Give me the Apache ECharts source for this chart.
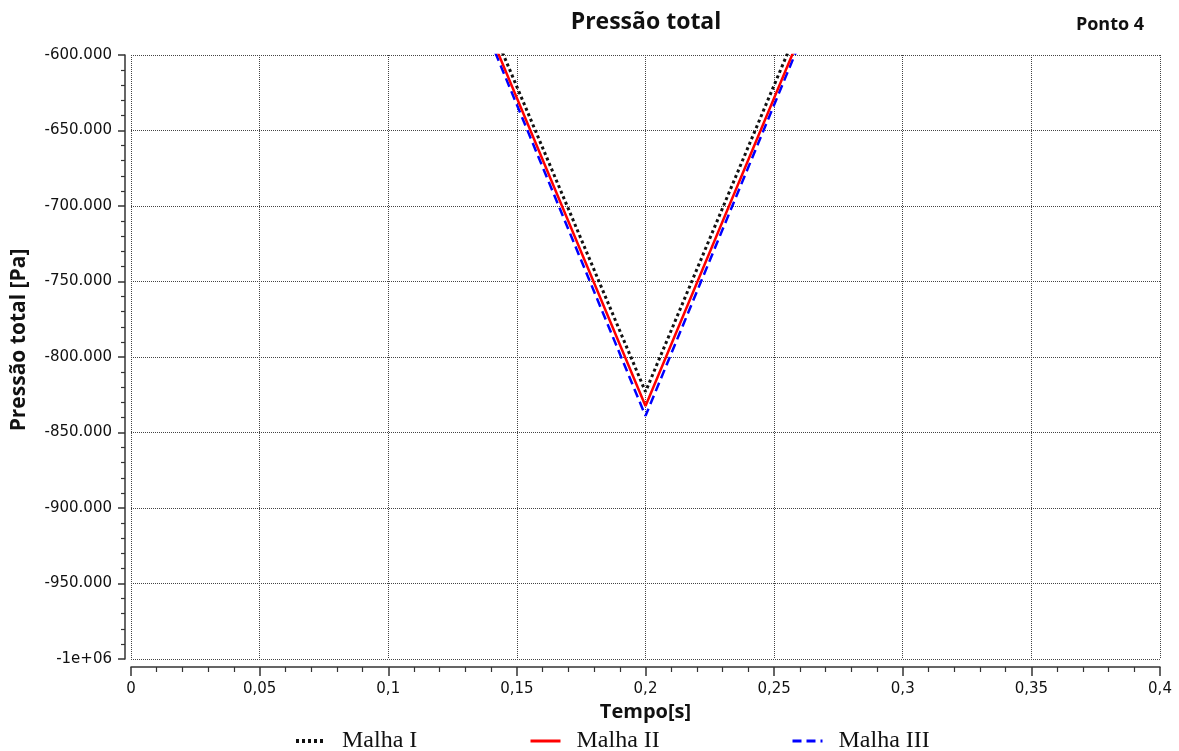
<!DOCTYPE html>
<html>
<head>
<meta charset="utf-8">
<script src="https://cdn.jsdelivr.net/npm/echarts@6/dist/echarts.min.js"></script>
<style>
html,body{margin:0;padding:0;background:#fff;}
#chart{width:1179px;height:751px;}
</style>
</head>
<body>
<div id="chart"></div>
<script>
// Data (time in s, total pressure in Pa)
const tempo = [0.1, 0.15, 0.2, 0.25, 0.3];
const malhaI = [-419000, -621000, -823000, -620000, -418000];
const malhaII = [-424500, -628500, -832500, -628500, -424500];
const malhaIII = [-427000, -633000, -839000, -633000, -427000];
const seriesNames = ['Malha I', 'Malha II', 'Malha III'];
const xTicks = [0, 0.05, 0.1, 0.15, 0.2, 0.25, 0.3, 0.35, 0.4];
const yTicks = [-1000000, -950000, -900000, -850000, -800000, -750000, -700000, -650000, -600000];

function pairs(xs, ys) { return xs.map((x, i) => [x, ys[i]]); }

const chart = echarts.init(document.getElementById('chart'), null, {renderer: 'canvas'});
const tickFont = {fontFamily: 'DejaVu Sans', fontSize: 15, color: '#111'};

const legendBase = {
  orient: 'horizontal', top: 729, padding: 0, itemWidth: 30, itemHeight: 14,
  itemStyle: {opacity: 0},
  textStyle: {fontFamily: 'Liberation Serif', fontSize: 24, color: '#111', padding: [0, 0, 0, 11]}
};

chart.setOption({
  animation: false,
  backgroundColor: '#fff',
  title: [
    {text: 'Pressão total', left: 641, top: 6, textAlign: 'center',
     textStyle: {fontFamily: 'Open Sans', fontWeight: 'bold', fontSize: 23, color: '#111'}},
    {text: 'Ponto 4', left: 1105, top: 11, textAlign: 'center',
     textStyle: {fontFamily: 'Open Sans', fontWeight: 'bold', fontSize: 18, color: '#111'}}
  ],
  grid: {left: 131, right: 19, top: 55, bottom: 92, containLabel: false, outerBoundsMode: 'none'},
  legend: [
    Object.assign({}, legendBase, {data: [seriesNames[0]], left: 294, lineStyle: {width: 4}}),
    Object.assign({}, legendBase, {data: [seriesNames[1]], left: 529, lineStyle: {width: 3}}),
    Object.assign({}, legendBase, {data: [seriesNames[2]], left: 791, lineStyle: {width: 3}})
  ],
  xAxis: {
    type: 'value', min: xTicks[0], max: xTicks[xTicks.length - 1], interval: 0.05,
    offset: 8,
    name: 'Tempo[s]', nameLocation: 'middle', nameGap: 30,
    nameTextStyle: {fontFamily: 'Open Sans', fontWeight: 'bold', fontSize: 20, color: '#111'},
    axisLine: {show: true, onZero: false, lineStyle: {color: '#333', width: 1.5}},
    axisTick: {show: true, length: 9, lineStyle: {color: '#333', width: 1.5}},
    minorTick: {show: true, splitNumber: 5, length: 5, lineStyle: {color: '#333', width: 1.2}},
    axisLabel: Object.assign({}, tickFont, {margin: 15,
      formatter: v => String(Math.round(v * 100) / 100).replace('.', ',')}),
    splitLine: {show: true, lineStyle: {color: '#444', type: 'dotted', width: 1}}
  },
  yAxis: {
    type: 'value', min: yTicks[0], max: yTicks[yTicks.length - 1], interval: 50000,
    offset: 6,
    name: 'Pressão total [Pa]', nameLocation: 'middle', nameGap: 95, nameRotate: 90,
    nameTextStyle: {fontFamily: 'Open Sans', fontWeight: 'bold', fontSize: 21, color: '#111',
                    padding: [0, 0, 0, 34]},
    axisLine: {show: true, onZero: false, lineStyle: {color: '#333', width: 1.5}},
    axisTick: {show: true, length: 7, lineStyle: {color: '#333', width: 1.5}},
    minorTick: {show: true, splitNumber: 5, length: 4, lineStyle: {color: '#333', width: 1.2}},
    axisLabel: Object.assign({}, tickFont, {margin: 13,
      formatter: v => v === -1000000 ? '-1e+06' : '-' + Math.round(Math.abs(v) / 1000) + '.000'}),
    splitLine: {show: true, lineStyle: {color: '#444', type: 'dotted', width: 1}}
  },
  series: [
    {name: seriesNames[0], type: 'line', data: pairs(tempo, malhaI), symbol: 'none', clip: true, z: 4,
     color: '#111', lineStyle: {color: '#111', width: 3, type: [3, 3]}},
    {name: seriesNames[1], type: 'line', data: pairs(tempo, malhaII), symbol: 'none', clip: true, z: 3,
     color: '#ff0000', lineStyle: {color: '#ff0000', width: 2.5, type: 'solid'}},
    {name: seriesNames[2], type: 'line', data: pairs(tempo, malhaIII), symbol: 'none', clip: true, z: 2,
     color: '#0000ff', lineStyle: {color: '#0000ff', width: 2.5, type: [9, 5]}}
  ]
});
</script>
</body>
</html>
